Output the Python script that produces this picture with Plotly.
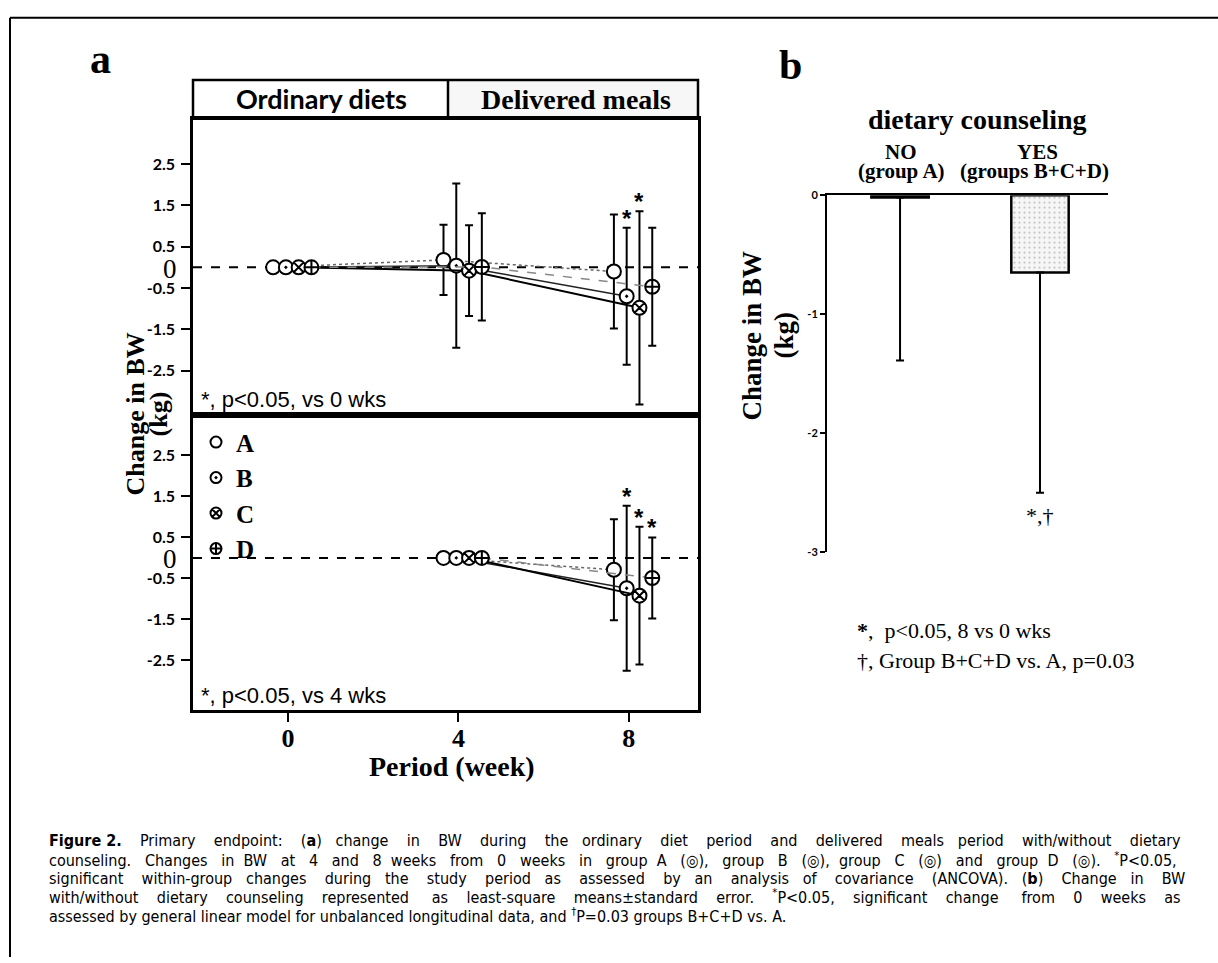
import plotly.graph_objects as go

W, H = 1218, 963


def px(x):
    return x / W


def py(y):
    return 1 - y / H


SERIF = "Liberation Serif, Times New Roman, serif"
SANS = "Liberation Sans, Arial, sans-serif"
CALI = "Lato, Carlito, Calibri, sans-serif"
NARROW = "DejaVu Sans Condensed, Arial Narrow, sans-serif"

# ---------------- data ----------------
groups = ["A", "B", "C", "D"]
weeks_upper = [0, 4, 8]
weeks_lower = [4, 8]

# Panel a (upper): change in BW from 0 weeks, mean and SD
upper_mean_A = [0.0, 0.18, -0.10]
upper_mean_B = [0.0, 0.04, -0.70]
upper_mean_C = [0.0, -0.08, -0.98]
upper_mean_D = [0.0, 0.01, -0.47]
upper_sd_A = [0.0, 0.85, 1.38]
upper_sd_B = [0.0, 1.99, 1.66]
upper_sd_C = [0.0, 1.10, 2.34]
upper_sd_D = [0.0, 1.30, 1.43]
upper_sig_A = [False, False, False]
upper_sig_B = [False, False, True]
upper_sig_C = [False, False, True]
upper_sig_D = [False, False, False]

# Panel a (lower): change in BW from 4 weeks, mean and SD
lower_mean_A = [0.0, -0.29]
lower_mean_B = [0.0, -0.74]
lower_mean_C = [0.0, -0.92]
lower_mean_D = [0.0, -0.49]
lower_sd_A = [0.0, 1.23]
lower_sd_B = [0.0, 2.01]
lower_sd_C = [0.0, 1.68]
lower_sd_D = [0.0, 0.99]
lower_sig_A = [False, False]
lower_sig_B = [False, True]
lower_sig_C = [False, True]
lower_sig_D = [False, True]

y_tick_vals_a = [2.5, 1.5, 0.5, -0.5, -1.5, -2.5]
y_tick_text_a = ["2.5", "1.5", "0.5", "-0.5", "-1.5", "-2.5"]
x_tick_vals_a = [0, 4, 8]
x_tick_text_a = ["0", "4", "8"]

# Panel b: least-square means and SE (downward only)
b_categories = ["NO", "YES"]
b_mean = [-0.02, -0.65]
b_se = [1.37, 1.85]
b_tick_vals = [0, -1, -2, -3]
b_tick_text = ["0", "-1", "-2", "-3"]

upper_mean = {"A": upper_mean_A, "B": upper_mean_B, "C": upper_mean_C, "D": upper_mean_D}
upper_sd = {"A": upper_sd_A, "B": upper_sd_B, "C": upper_sd_C, "D": upper_sd_D}
upper_sig = {"A": upper_sig_A, "B": upper_sig_B, "C": upper_sig_C, "D": upper_sig_D}
lower_mean = {"A": lower_mean_A, "B": lower_mean_B, "C": lower_mean_C, "D": lower_mean_D}
lower_sd = {"A": lower_sd_A, "B": lower_sd_B, "C": lower_sd_C, "D": lower_sd_D}
lower_sig = {"A": lower_sig_A, "B": lower_sig_B, "C": lower_sig_C, "D": lower_sig_D}

# ---------------- styles ----------------
dodge = {"A": -0.35, "B": -0.05, "C": 0.25, "D": 0.55}
symbols = {"A": "circle", "B": "circle-dot", "C": "circle-x", "D": "circle-cross"}
lines = {
    "A": dict(color="#666666", width=1.5, dash="dot"),
    "B": dict(color="#222222", width=1.5),
    "C": dict(color="#000000", width=2),
    "D": dict(color="#888888", width=1.5, dash="dash"),
}

fig = go.Figure()
annotations = []


def add_panel(weeks, means, sds, sigs, xa, ya):
    for g in groups:
        xs = [w + dodge[g] for w in weeks]
        fig.add_trace(go.Scatter(
            x=xs, y=means[g], xaxis=xa, yaxis=ya,
            mode="lines+markers", showlegend=False, name=g,
            line=lines[g],
            marker=dict(symbol=symbols[g], size=14, color="white",
                        line=dict(color="black", width=2)),
            error_y=dict(type="data", array=sds[g], color="black",
                         thickness=2, width=4),
        ))
        for xv, m, s, sig in zip(xs, means[g], sds[g], sigs[g]):
            if sig:
                annotations.append(dict(
                    x=xv, y=m + s, xref=xa, yref=ya, text="*", showarrow=False,
                    yanchor="bottom", yshift=-6,
                    font=dict(family=SANS, size=24, color="black", weight="bold")))


add_panel(weeks_upper, upper_mean, upper_sd, upper_sig, "x2", "y2")
add_panel(weeks_lower, lower_mean, lower_sd, lower_sig, "x", "y")

# legend-only traces
for g in groups:
    fig.add_trace(go.Scatter(
        x=[None], y=[None], xaxis="x", yaxis="y", mode="markers", name=g,
        marker=dict(symbol=symbols[g], size=11, color="white",
                    line=dict(color="black", width=2)),
        showlegend=True))

# Panel b bars
fig.add_trace(go.Bar(
    x=b_categories, y=b_mean, xaxis="x3", yaxis="y3", width=0.41,
    showlegend=False,
    marker=dict(color="#f3f3f3", line=dict(color="black", width=2.5),
                pattern=dict(shape=".", fgcolor="#8a8a8a", bgcolor="#f6f6f6",
                             size=5, solidity=0.15)),
    error_y=dict(type="data", symmetric=False, array=[0, 0], arrayminus=b_se,
                 color="black", thickness=2, width=4),
))

xr = [-2.23, 9.624]
xdom = [px(193), px(698)]
axis_common = dict(showgrid=False, zeroline=False, showline=True, linecolor="black",
                   linewidth=2.5, mirror=True)
ytick_font = dict(family=CALI, size=16, color="black", weight="bold")

fig.update_layout(
    width=W, height=H, margin=dict(l=0, r=0, t=0, b=0),
    paper_bgcolor="white", plot_bgcolor="white",
    xaxis=dict(domain=xdom, range=xr, anchor="y", tickvals=x_tick_vals_a,
               ticktext=x_tick_text_a, ticks="outside", ticklen=9, tickwidth=2,
               tickcolor="black", ticklabelstandoff=-6,
               tickfont=dict(family=SERIF, size=26, color="black", weight="bold"),
               **axis_common),
    yaxis=dict(domain=[py(712.7), py(413.3)], range=[-3.71, 3.49], anchor="x",
               tickvals=y_tick_vals_a, ticktext=y_tick_text_a, ticks="outside",
               ticklen=9, tickwidth=2, tickcolor="black", ticklabelstandoff=3,
               tickfont=ytick_font, **axis_common),
    xaxis2=dict(domain=xdom, range=xr, anchor="y2", showticklabels=False, ticks="",
                **axis_common),
    yaxis2=dict(domain=[py(413.3), py(113.3)], range=[-3.57, 3.60], anchor="x2",
                tickvals=y_tick_vals_a, ticktext=y_tick_text_a, ticks="outside",
                ticklen=9, tickwidth=2, tickcolor="black", ticklabelstandoff=3,
                tickfont=ytick_font, **axis_common),
    xaxis3=dict(domain=[px(827), px(1108)], range=[-0.522, 1.486], anchor="y3",
                side="top", showticklabels=False, ticks="", showgrid=False,
                zeroline=False, showline=True, linecolor="black", linewidth=2),
    yaxis3=dict(domain=[py(552.7), py(190.7)], range=[-3, 0], anchor="x3",
                tickvals=b_tick_vals, ticktext=b_tick_text, ticks="outside",
                ticklen=5, tickwidth=2, tickcolor="black", showgrid=False,
                zeroline=False, showline=True, linecolor="black", linewidth=2,
                tickfont=dict(family=CALI, size=11, color="black", weight="bold")),
    legend=dict(x=px(196), y=py(418), xanchor="left", yanchor="top",
                bgcolor="rgba(0,0,0,0)", borderwidth=0, tracegroupgap=0,
                itemwidth=30,
                font=dict(family=SERIF, size=25, color="black", weight="bold")),
    showlegend=True,
)

shapes = []
# header box
shapes.append(dict(type="rect", xref="paper", yref="paper", x0=px(448), x1=px(698),
                   y0=py(113.3), y1=py(74), fillcolor="#f7f7f7",
                   line=dict(width=0), layer="below"))
shapes.append(dict(type="rect", xref="paper", yref="paper", x0=px(193), x1=px(698),
                   y0=py(113.3), y1=py(74), line=dict(color="black", width=2.5)))
shapes.append(dict(type="line", xref="paper", yref="paper", x0=px(448), x1=px(448),
                   y0=py(113.3), y1=py(74), line=dict(color="black", width=2.5)))
# dashed zero lines
for xa, ya in (("x", "y"), ("x2", "y2")):
    shapes.append(dict(type="line", xref=xa + " domain", yref=ya, x0=0, x1=1, y0=0, y1=0,
                       line=dict(color="black", width=2, dash="dash"), layer="below"))
# outer frame (top and left)
shapes.append(dict(type="line", xref="paper", yref="paper", x0=px(10), x1=px(1218),
                   y0=py(11), y1=py(11), line=dict(color="black", width=2)))
shapes.append(dict(type="line", xref="paper", yref="paper", x0=px(10), x1=px(10),
                   y0=py(11), y1=py(963), line=dict(color="black", width=2)))
fig.update_layout(shapes=shapes)


def ann(x, y, text, font, size, bold=False, xanchor="center", textangle=0, color="black"):
    annotations.append(dict(
        x=px(x), y=py(y), xref="paper", yref="paper", text=text, showarrow=False,
        xanchor=xanchor, yanchor="middle", textangle=textangle,
        font=dict(family=font, size=size, color=color, weight="bold" if bold else "normal")))


ann(100, 53, "a", SERIF, 42, bold=True)
ann(790, 59, "b", SERIF, 42, bold=True)
ann(321, 93, "Ordinary diets", CALI, 27, bold=True)
ann(576, 94, "Delivered meals", SERIF, 28, bold=True)
ann(170, 266, "0", SERIF, 27)
ann(170, 560, "0", SERIF, 27)
ann(199, 398, "*, p&lt;0.05, vs 0 wks", SANS, 22, xanchor="left")
ann(199, 698, "*, p&lt;0.05, vs 4 wks", SANS, 22, xanchor="left")
ann(452, 770, "Period (week)", SERIF, 28, bold=True)
ann(135, 413, "Change in BW", SERIF, 26, bold=True, textangle=-90)
ann(158, 413, "(kg)", SERIF, 26, bold=True, textangle=-90)

# panel b texts
ann(977, 114, "dietary counseling", SERIF, 28, bold=True)
ann(901, 147, "NO", SERIF, 21, bold=True)
ann(901, 166, "(group A)", SERIF, 21, bold=True)
ann(1037, 147, "YES", SERIF, 21, bold=True)
ann(1034, 166, "(groups B+C+D)", SERIF, 21, bold=True)
ann(752, 333, "Change in BW", SERIF, 27, bold=True, textangle=-90)
ann(784, 333, "(kg)", SERIF, 27, bold=True, textangle=-90)
annotations.append(dict(x="YES", y=b_mean[1] - b_se[1], xref="x3", yref="y3", text="*,†",
                        showarrow=False, yanchor="top", yshift=-8,
                        font=dict(family=SERIF, size=22, color="black")))
ann(855, 632, "<b>*</b>,  p&lt;0.05, 8 vs 0 wks", SERIF, 22, xanchor="left")
ann(855, 662, "†, Group B+C+D vs. A, p=0.03", SERIF, 22, xanchor="left")

# caption (justified lines padded with non-breaking spaces)
NB = "\u00a0"


def justify(words, extra):
    gaps = len(words) - 1
    out = words[0]
    given = 0
    for i, w in enumerate(words[1:], start=1):
        target = round(extra * i / gaps)
        n = target - given
        given = target
        out += " " + NB * n + w
    return out


cap_words = [
    "Primary endpoint: (<b>a</b>) change in BW during the ordinary diet period and delivered meals period with/without dietary".split(" "),
    "counseling. Changes in BW at 4 and 8 weeks from 0 weeks in group A (◎), group B (◎), group C (◎) and group D (◎). <sup>*</sup>P&lt;0.05,".split(" "),
    "significant within-group changes during the study period as assessed by an analysis of covariance (ANCOVA). (<b>b</b>) Change in BW".split(" "),
    "with/without dietary counseling represented as least-square means±standard error. <sup>*</sup>P&lt;0.05, significant change from 0 weeks as".split(" "),
]
cap_extra = [45, 47, 47, 44]
cap_lines = [justify(w, e) for w, e in zip(cap_words, cap_extra)]
cap_lines[0] = "<b>Figure 2.</b>" + NB * 4 + cap_lines[0]
cap_lines.append("assessed by general linear model for unbalanced longitudinal data, and <sup>†</sup>P=0.03 groups B+C+D vs. A.")
for i, line in enumerate(cap_lines):
    ann(47, 845 + 19 * i, line, NARROW, 16, xanchor="left")

fig.update_layout(annotations=annotations)
fig.write_html("out.html")
